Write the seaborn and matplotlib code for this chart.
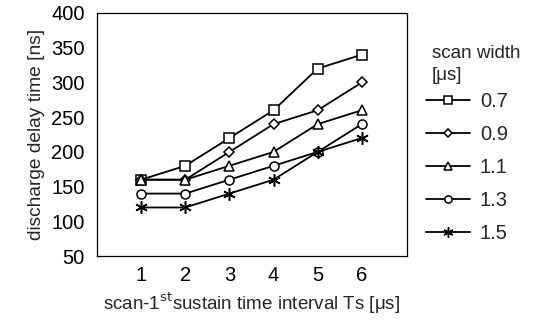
import matplotlib
matplotlib.use("Agg")
import matplotlib.pyplot as plt
import seaborn as sns
import pandas as pd

intervals = [1, 2, 3, 4, 5, 6]
widths = ["0.7", "0.9", "1.1", "1.3", "1.5"]
w07 = [160, 180, 220, 260, 320, 340]
w09 = [160, 160, 200, 240, 260, 300]
w11 = [160, 160, 180, 200, 240, 260]
w13 = [140, 140, 160, 180, 200, 240]
w15 = [120, 120, 140, 160, 200, 220]
series = [w07, w09, w11, w13, w15]
yticks = [50, 100, 150, 200, 250, 300, 350, 400]
legend_title = ["scan width", "[μs]"]

rows = []
for w, vals in zip(widths, series):
    for x, v in zip(intervals, vals):
        rows.append({"Ts": x, "delay": v, "width": w})
df = pd.DataFrame(rows)

sns.set_style("white")
plt.rcParams["font.family"] = ["Liberation Sans", "DejaVu Sans"]

fig = plt.figure(figsize=(5.36, 3.25), dpi=100)
ax = fig.add_axes([0.181, 0.212, 0.578, 0.748])

markers = {"0.7": "s", "0.9": "D", "1.1": "^", "1.3": "o", "1.5": (6, 2, 0)}
sizes = {"0.7": 6.5, "0.9": 5, "1.1": 6.5, "1.3": 6.5, "1.5": 9}
for w in widths:
    sub = df[df["width"] == w]
    sns.lineplot(data=sub, x="Ts", y="delay", ax=ax, color="black", lw=1.3,
                 marker=markers[w], markersize=sizes[w], markerfacecolor="white",
                 markeredgecolor="black", markeredgewidth=1.1, label=w,
                 legend=False)

ax.set_xlim(0, 7.02)
ax.set_ylim(50, 400)
ax.set_xticks(intervals)
ax.set_yticks(yticks)
ax.tick_params(axis="both", direction="in", length=3, width=0.8,
               labelsize=14.5, colors="black", pad=7)
ax.tick_params(axis="y", pad=9)
for s in ax.spines.values():
    s.set_color("black")
    s.set_linewidth(0.9)

ax.set_xlabel("scan-1$^{\\rm st}$sustain time interval Ts [μs]", fontsize=13.5, labelpad=4)
ax.set_ylabel("discharge delay time [ns]", fontsize=13.8, labelpad=4)

handles, labels = ax.get_legend_handles_labels()
leg = ax.legend(handles, labels, loc="upper left",
                bbox_to_anchor=(0.779, 0.742), bbox_transform=fig.transFigure,
                frameon=False, fontsize=14.5, handlelength=2.2, handletextpad=0.5,
                labelspacing=0.70, markerscale=0.8, borderaxespad=0)

fig.text(0.806, 1 - 53 / 325, legend_title[0], fontsize=13.5, va="center", ha="left")
fig.text(0.806, 1 - 75 / 325, legend_title[1], fontsize=13.5, va="center", ha="left")

fig.savefig("out.png", dpi=100)
